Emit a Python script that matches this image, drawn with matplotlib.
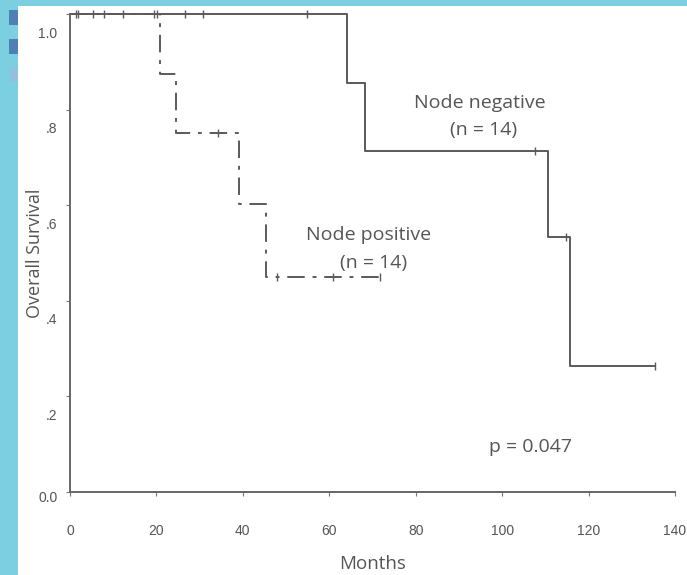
import numpy as np
import matplotlib
matplotlib.use("Agg")
import matplotlib.pyplot as plt
from matplotlib.patches import Rectangle
import matplotlib.transforms as mtransforms

# ---- data ----
neg_times = [0, 64.1, 68.3, 110.6, 115.7, 135.4]
neg_surv = [1.0, 0.856, 0.713, 0.533, 0.264, 0.264]
neg_censor = [1.9, 7.9, 26.6, 30.8, 54.9, 107.6, 114.8, 135.4]

pos_times = [0, 20.8, 24.5, 39.1, 45.4, 71.8]
pos_surv = [1.0, 0.874, 0.751, 0.603, 0.450, 0.450]
pos_censor = [1.4, 5.3, 12.3, 19.4, 20.1, 34.2, 47.9, 60.9, 71.8]

x_ticks = [0, 20, 40, 60, 80, 100, 120, 140]
y_ticks = [0.0, 0.2, 0.4, 0.6, 0.8, 1.0]
y_tick_labels = ["0.0", ".2", ".4", ".6", ".8", "1.0"]

neg_title, neg_n = "Node negative", "(n = 14)"
pos_title, pos_n = "Node positive", "(n = 14)"
p_text = "p = 0.047"

# ---- figure ----
W, H = 687, 575
fig = plt.figure(figsize=(W / 100, H / 100), dpi=100)
fig.patch.set_facecolor("#7ccfe1")
fig.patches.append(Rectangle((18 / W, 0), 1 - 18 / W, (H - 6) / H,
                             transform=fig.transFigure, facecolor="white",
                             edgecolor="none", zorder=-10))
for (y0, y1, c) in [(10, 25, "#4f7fb3"), (39, 54, "#4f7fb3"), (67, 82, "#90c2de")]:
    fig.patches.append(Rectangle((9 / W, (H - y1) / H), 9 / W, (y1 - y0) / H,
                                 transform=fig.transFigure, facecolor=c,
                                 edgecolor="none", zorder=-9))

ax = fig.add_axes([70 / W, (H - 492) / H, 605 / W, 478 / H])
ax.set_facecolor("none")
ax.set_zorder(5)

line_col = "#5a5a5a"
text_col = "#555555"


def surv_at(times, surv, t):
    idx = np.searchsorted(times, t, side="right") - 1
    return np.asarray(surv)[idx]


ax.step(neg_times, neg_surv, where="post", color=line_col, lw=1.4, clip_on=False)
ax.plot(neg_censor, surv_at(neg_times, neg_surv, neg_censor), ls="none",
        marker="|", ms=6, mew=1.0, color=line_col, clip_on=False)

ax.step(pos_times, pos_surv, where="post", color=line_col, lw=1.4,
        dashes=(9, 4, 2, 4), clip_on=False)
ax.plot(pos_censor, surv_at(pos_times, pos_surv, pos_censor), ls="none",
        marker="|", ms=6, mew=1.0, color=line_col, clip_on=False)

ax.set_xlim(0, 140)
ax.set_ylim(0, 1.0)
for s in ["top", "right"]:
    ax.spines[s].set_visible(False)
for s in ["left", "bottom"]:
    ax.spines[s].set_color("#666666")
    ax.spines[s].set_linewidth(1.4)

ax.set_xticks(x_ticks)
ax.set_xticklabels([str(v) for v in x_ticks])
ax.set_yticks(y_ticks)
ax.set_yticklabels(y_tick_labels)
ax.tick_params(axis="both", direction="out", length=3, width=0.8,
               colors="#777777", labelcolor=text_col, labelsize=10)
ax.tick_params(axis="x", pad=20)
ax.tick_params(axis="y", pad=6)
for lab in ax.get_xticklabels() + ax.get_yticklabels():
    lab.set_fontfamily("Liberation Sans")

# y tick labels sit lower than their ticks in the reference
for lab, v in zip(ax.get_yticklabels(), y_ticks):
    dy = -5 / 100 if v == 0.0 else -18 / 100
    lab.set_transform(lab.get_transform() +
                      mtransforms.ScaledTranslation(0, dy, fig.dpi_scale_trans))

font = "Open Sans"
ax.set_xlabel("Months", fontsize=13.5, color=text_col, family=font, labelpad=12)
ax.set_ylabel("Overall Survival", fontsize=13, color=text_col, family=font)
ax.yaxis.set_label_coords(-26 / 605, 0.5)

fs = 14
ax.text(94.9, 0.814, neg_title, ha="center", va="center", fontsize=fs,
        color=text_col, family=font)
ax.text(95.7, 0.757, neg_n, ha="center", va="center", fontsize=fs,
        color=text_col, family=font)
ax.text(69.0, 0.537, pos_title, ha="center", va="center", fontsize=fs,
        color=text_col, family=font)
ax.text(70.2, 0.479, pos_n, ha="center", va="center", fontsize=fs,
        color=text_col, family=font)
ax.text(106.5, 0.094, p_text, ha="center", va="center", fontsize=fs,
        color=text_col, family=font)

fig.savefig("out.png", dpi=100, facecolor=fig.get_facecolor())
